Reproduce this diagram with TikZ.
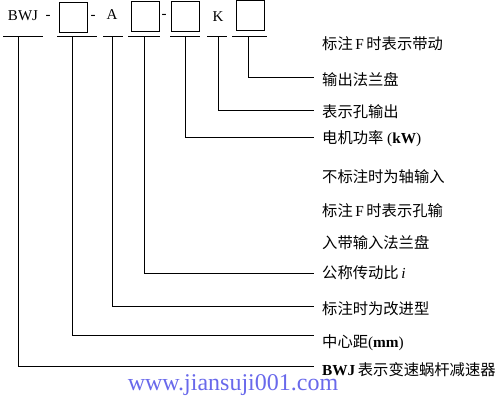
\documentclass[tikz,border=0pt]{standalone}
\usepackage{fontspec}
\setmainfont{Liberation Serif}
\newfontfamily\cjk{Noto Sans CJK SC}
\definecolor{urlblue}{RGB}{105,105,235}
\begin{document}
\begin{tikzpicture}[x=1pt,y=-1pt,
  lbl/.style={anchor=west,inner sep=0pt,font=\fontsize{15.3}{17}\selectfont},
  sym/.style={inner sep=0pt,font=\fontsize{15}{16}\selectfont},
  codebox/.style={draw,line width=1pt,minimum width=28pt,minimum height=30pt,inner sep=0pt},
  conn/.style={line width=1pt},
  bar/.style={line width=1pt}]
\useasboundingbox (0,0) rectangle (500,403);
% code symbols
\node[sym] (bwj) at (23,16) {BWJ};
\node[sym] (d1) at (48,17) {-};
\node[codebox] (b1) at (73,18) {};
\node[sym] (d2) at (93,17) {-};
\node[sym] (a) at (112,15) {A};
\node[codebox] (b2) at (145.5,16.5) {};
\node[sym] (d3) at (164,16) {-};
\node[codebox] (b3) at (185,16.5) {};
\node[sym] (k) at (218,17) {K};
\node[codebox] (b4) at (250,16) {};
% underline bars
\draw[bar] (3,37) -- (43,37);
\draw[bar] (57,37) -- (97,37);
\draw[bar] (103,37) -- (123,37);
\draw[bar] (128,37) -- (160,37);
\draw[bar] (170,37) -- (200,37);
\draw[bar] (207,37) -- (227,37);
\draw[bar] (232,37) -- (267,37);
% start points of connectors
\coordinate (s1) at (18,37);
\coordinate (s2) at (72,37);
\coordinate (s3) at (112,37);
\coordinate (s4) at (144,37);
\coordinate (s5) at (185,37);
\coordinate (s6) at (218,37);
\coordinate (s7) at (248,37);
% end points
\coordinate (e7) at (314,78);
\coordinate (e6) at (314,111);
\coordinate (e5) at (314,138);
\coordinate (e4) at (314,273);
\coordinate (e3) at (314,306);
\coordinate (e2) at (314,335);
\coordinate (e1) at (314,366);
% labels
\node[lbl] (t1) at (322,44) {{\cjk 标注}\,F\,{\cjk 时表示带动}};
\node[lbl] (t2) at (322,80) {\cjk 输出法兰盘};
\node[lbl] (t3) at (322,112) {\cjk 表示孔输出};
\node[lbl] (t4) at (322,139) {{\cjk 电机功率}~(\textbf{kW})};
\node[lbl] (t5) at (322,177) {\cjk 不标注时为轴输入};
\node[lbl] (t6) at (322,211) {{\cjk 标注}\,F\,{\cjk 时表示孔输}};
\node[lbl] (t7) at (322,243) {\cjk 入带输入法兰盘};
\node[lbl] (t8) at (322,273) {{\cjk 公称传动比}\,\textit{i}};
\node[lbl] (t9) at (322,309) {\cjk 标注时为改进型};
\node[lbl] (t10) at (322,343) {{\cjk 中心距}(\textbf{mm})};
\node[lbl] (t11) at (322,370) {\textbf{BWJ}\,{\cjk 表示变速蜗杆减速器}};
% connectors
\draw[conn] (s7) |- (e7);
\draw[conn] (s6) |- (e6);
\draw[conn] (s5) |- (e5);
\draw[conn] (s4) |- (e4);
\draw[conn] (s3) |- (e3);
\draw[conn] (s2) |- (e2);
\draw[conn] (s1) |- (e1);
% url
\node[inner sep=0pt,text=urlblue,font=\fontsize{24}{26}\selectfont] (url) at (233,385) {www.jiansuji001.com};
\end{tikzpicture}
\end{document}
